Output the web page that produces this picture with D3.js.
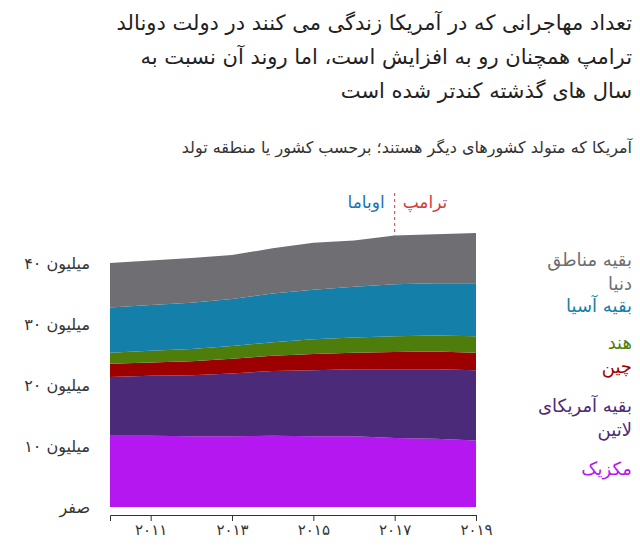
<!DOCTYPE html><html><head><meta charset="utf-8">
<script src="https://cdn.jsdelivr.net/npm/d3@7"></script>
<style>body{margin:0;background:#fff}text{font-family:"DejaVu Sans","Noto Sans",sans-serif}</style></head><body>
<svg id="c" width="640" height="554"></svg>
<script>
const years=[2010,2011,2012,2013,2014,2015,2016,2017,2018,2019];
const mexico=[11.7,11.7,11.6,11.6,11.7,11.6,11.6,11.3,11.2,10.9];
const latam=[9.6,9.8,10.0,10.3,10.6,10.8,11.0,11.3,11.4,11.5];
const china=[2.2,2.2,2.3,2.4,2.5,2.7,2.7,2.8,2.9,2.9];
const india=[1.8,1.9,2.0,2.1,2.2,2.4,2.5,2.6,2.6,2.7];
const restAsia=[7.4,7.5,7.6,7.7,8.0,8.1,8.3,8.5,8.6,8.7];
const restWorld=[7.3,7.3,7.3,7.2,7.4,7.7,7.6,8.0,8.0,8.2];
const keys=["mexico","latam","china","india","restAsia","restWorld"];
const colors=["#b517f0","#4c2a7a","#9c0000","#4f7d0c","#147fa8","#6e6e73"];
const seriesLabels=[["مکزیک"],["بقیه آمریکای","لاتین"],["چین"],["هند"],["بقیه آسیا"],["بقیه مناطق","دنیا"]];
const xTicks=[2011,2013,2015,2017,2019];
const yTicks=[0,10,20,30,40];
const fa=n=>String(n).replace(/\d/g,d=>"۰۱۲۳۴۵۶۷۸۹"[d]);
const yLab=v=>v===0?"صفر":fa(v)+" میلیون";

const svg=d3.select("#c");
const x=d3.scaleLinear().domain([2010,2019]).range([110,476]);
const y=d3.scaleLinear().domain([0,40]).range([507,263]);
const arrs={mexico,latam,china,india,restAsia,restWorld};
const rows=years.map((yr,i)=>{const o={year:yr};keys.forEach(k=>o[k]=arrs[k][i]);return o;});
const stack=d3.stack().keys(keys)(rows);
const area=d3.area().x(d=>x(d.data.year)).y0(d=>y(d[0])).y1(d=>y(d[1]));
svg.selectAll("path.a").data(stack).join("path").attr("fill",(d,i)=>colors[i]).attr("d",area);

["تعداد مهاجرانی که در آمریکا زندگی می کنند در دولت دونالد","ترامپ همچنان رو به افزایش است، اما روند آن نسبت به","سال های گذشته کندتر شده است"].forEach((t,i)=>
 svg.append("text").attr("x",632).attr("y",30+i*34).attr("text-anchor","end").attr("font-size",21).attr("fill","#222").text(t));
svg.append("text").attr("x",632).attr("y",153).attr("text-anchor","end").attr("font-size",16).attr("fill","#333").text("آمریکا که متولد کشورهای دیگر هستند؛ برحسب کشور یا منطقه تولد");

yTicks.forEach(v=>svg.append("text").attr("x",90).attr("y",y(v)+6).attr("text-anchor","end").attr("font-size",16).attr("fill","#333").text(yLab(v)));

const ax=svg.append("g").attr("transform","translate(0,515)").call(d3.axisBottom(x).tickValues(xTicks).tickSize(6).tickFormat(fa));
ax.select(".domain").attr("stroke","#333");
ax.selectAll("line").attr("stroke","#333");
ax.selectAll("text").attr("font-size",15).attr("fill","#333").attr("font-family","DejaVu Sans");

const labY=[475,412,373,349,312,266];
seriesLabels.forEach((ls,i)=>{
 const t=svg.append("text").attr("text-anchor","end").attr("font-size",18).attr("fill",colors[i]);
 ls.forEach((l,j)=>t.append("tspan").attr("x",632).attr("y",labY[i]+j*24).text(l));
});

const ex=x(2017);
svg.append("line").attr("x1",ex).attr("x2",ex).attr("y1",193).attr("y2",y(d3.sum(keys,k=>arrs[k][7]))).attr("stroke","#d6393b").attr("stroke-dasharray","3,3");
svg.append("text").attr("x",ex+8).attr("y",208).attr("font-size",17).attr("fill","#d6393b").text("ترامپ");
svg.append("text").attr("x",ex-10).attr("y",208).attr("text-anchor","end").attr("font-size",17).attr("fill","#1a73b5").text("اوباما");
</script></body></html>
